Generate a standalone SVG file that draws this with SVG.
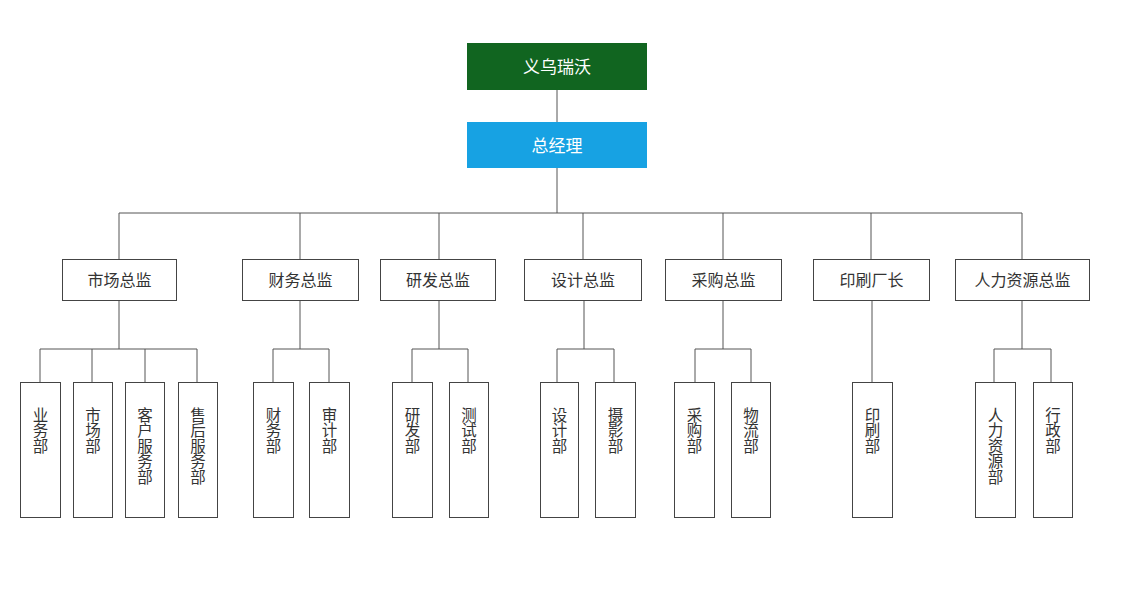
<svg xmlns="http://www.w3.org/2000/svg" width="1121" height="596" viewBox="0 0 1121 596">
<style>
.bg{fill:#ffffff}
.l2 rect,.l3 rect{fill:#ffffff;stroke:#444444;stroke-width:1}
.t{font-family:"Noto Sans CJK SC","Noto Sans",sans-serif;font-size:16px;fill:#333333;text-anchor:middle}
.v{font-size:15.5px;writing-mode:vertical-rl;text-anchor:start}
.w{fill:#ffffff;font-size:17px}
#connectors path{fill:none;stroke:#555555;stroke-width:1}
</style>
<rect class="bg" x="0" y="0" width="1121" height="596"/>
<g id="connectors">
<path d="M557 90V122M557 168V213M119 213H1022"/>
<path d="M119 213V259M300 213V259M439 213V259M583 213V259M723 213V259M871 213V259M1022 213V259"/>
<path d="M119 300V349M40 349H197M40 349V382M92 349V382M145 349V382M197 349V382"/>
<path d="M300 300V349M273 349H329M273 349V382M329 349V382"/>
<path d="M439 300V349M412 349H468M412 349V382M468 349V382"/>
<path d="M584 300V349M557 349H614M557 349V382M614 349V382"/>
<path d="M723 300V349M695 349H751M695 349V382M751 349V382"/>
<path d="M872 300V382"/>
<path d="M1022 300V349M994 349H1051M994 349V382M1051 349V382"/>
</g>
<g id="n-root"><rect x="467" y="43" width="180" height="47" fill="#116520"/><text class="t w" x="557" y="73">义乌瑞沃</text></g>
<g id="n-gm"><rect x="467" y="122" width="180" height="46" fill="#17a2e3"/><text class="t w" x="557" y="152">总经理</text></g>
<g class="l2">
<g id="n-sc"><rect x="62.5" y="259.5" width="114" height="41"/><text class="t" x="119.5" y="286">市场总监</text></g>
<g id="n-cw"><rect x="242.5" y="259.5" width="116" height="41"/><text class="t" x="300.5" y="286">财务总监</text></g>
<g id="n-yf"><rect x="380.5" y="259.5" width="115" height="41"/><text class="t" x="438" y="286">研发总监</text></g>
<g id="n-sj"><rect x="524.5" y="259.5" width="117" height="41"/><text class="t" x="583" y="286">设计总监</text></g>
<g id="n-cg"><rect x="665.5" y="259.5" width="116" height="41"/><text class="t" x="723.5" y="286">采购总监</text></g>
<g id="n-ys"><rect x="813.5" y="259.5" width="116" height="41"/><text class="t" x="871.5" y="286">印刷厂长</text></g>
<g id="n-rl"><rect x="955.5" y="259.5" width="134" height="41"/><text class="t" x="1022.5" y="286">人力资源总监</text></g>
</g>
<g class="l3">
<g id="d-yw"><rect x="20.5" y="382.5" width="40" height="135"/><text class="t v" x="40.5" y="407">业务部</text></g>
<g id="d-sc"><rect x="73.5" y="382.5" width="39" height="135"/><text class="t v" x="93" y="407">市场部</text></g>
<g id="d-kf"><rect x="125.5" y="382.5" width="39" height="135"/><text class="t v" x="145" y="407">客户服务部</text></g>
<g id="d-sh"><rect x="178.5" y="382.5" width="39" height="135"/><text class="t v" x="198" y="407">售后服务部</text></g>
<g id="d-cw"><rect x="253.5" y="382.5" width="40" height="135"/><text class="t v" x="273.5" y="407">财务部</text></g>
<g id="d-sj"><rect x="309.5" y="382.5" width="40" height="135"/><text class="t v" x="329.5" y="407">审计部</text></g>
<g id="d-yf"><rect x="392.5" y="382.5" width="40" height="135"/><text class="t v" x="412.5" y="407">研发部</text></g>
<g id="d-cs"><rect x="449.5" y="382.5" width="39" height="135"/><text class="t v" x="469" y="407">测试部</text></g>
<g id="d-sjb"><rect x="540.5" y="382.5" width="38" height="135"/><text class="t v" x="559.5" y="407">设计部</text></g>
<g id="d-sy"><rect x="595.5" y="382.5" width="40" height="135"/><text class="t v" x="615.5" y="407">摄影部</text></g>
<g id="d-cg"><rect x="674.5" y="382.5" width="40" height="135"/><text class="t v" x="694.5" y="407">采购部</text></g>
<g id="d-wl"><rect x="731.5" y="382.5" width="39" height="135"/><text class="t v" x="751" y="407">物流部</text></g>
<g id="d-ys"><rect x="852.5" y="382.5" width="40" height="135"/><text class="t v" x="872.5" y="407">印刷部</text></g>
<g id="d-rl"><rect x="975.5" y="382.5" width="40" height="135"/><text class="t v" x="995.5" y="407">人力资源部</text></g>
<g id="d-xz"><rect x="1033.5" y="382.5" width="39" height="135"/><text class="t v" x="1053" y="407">行政部</text></g>
</g>
</svg>
